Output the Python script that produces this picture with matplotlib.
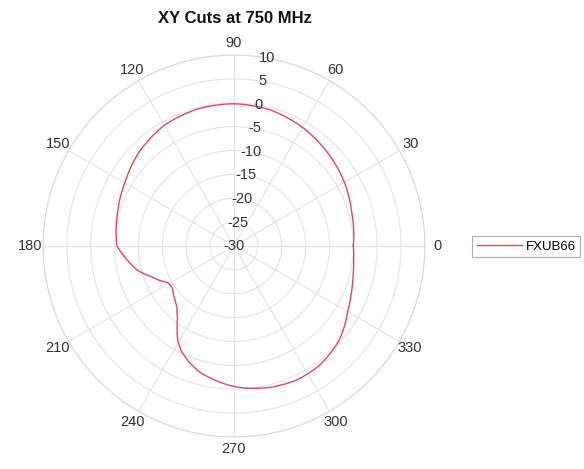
import numpy as np
import matplotlib
matplotlib.use('Agg')
import matplotlib.pyplot as plt

# pattern (angle in deg, level in dB)
angles_deg = [0, 15, 30, 45, 60, 75, 90, 105, 120, 135, 150, 165, 180,
              188, 194, 200, 205, 209, 214, 220, 227, 232, 236, 239, 243,
              249, 255, 262, 268, 275, 285, 295, 305, 312, 318, 324, 330,
              338, 345, 352, 360]
gain_db = [-5.0, -4.4, -3.3, -2.3, -1.3, -0.5, -0.2, -0.3, -0.8, -2.0, -3.6,
           -4.7, -5.5, -7.6, -9.1, -11.4, -12.9, -14.2, -14.4, -13.6, -12.5,
           -10.8, -8.7, -7.1, -5.5, -3.9, -2.6, -1.6, -0.8, -0.1, 0.6, 1.0,
           0.8, 0.2, -0.4, -1.4, -2.5, -3.5, -4.2, -4.7, -5.0]
r_ticks = [-30, -25, -20, -15, -10, -5, 0, 5, 10]
theta_ticks = [0, 30, 60, 90, 120, 150, 180, 210, 240, 270, 300, 330]
series_name = 'FXUB66'

plt.rcParams['font.family'] = ['Liberation Sans', 'DejaVu Sans']

fig = plt.figure(figsize=(5.84, 4.69), dpi=100)
ax = fig.add_axes([0.0736, 0.0682, 0.654, 0.8145], projection='polar')

line, = ax.plot(np.deg2rad(angles_deg), gain_db, color='#e6455e', lw=1.0)
# draw segments as arcs in polar space, not straight chords
line.get_path()._interpolation_steps = 30

ax.set_rlim(-30, 10)
ax.set_rticks(r_ticks)
ax.set_yticklabels([])
# radial labels sit right on the 80 deg spoke, like MATLAB does
for v in r_ticks:
    ax.text(np.deg2rad(80), v, str(v), ha='center', va='center',
            fontsize=10.5, color='#333333')
ax.set_thetagrids(theta_ticks, [str(t) for t in theta_ticks],
                  fontsize=10.5, color='#333333')
ax.tick_params(axis='x', pad=-1.5)
ax.grid(True, color='#e3e3e3', lw=0.8)
ax.spines['polar'].set_color('#d9d9d9')
ax.spines['polar'].set_linewidth(0.8)

fig.text(0.403, 0.961, 'XY Cuts at 750 MHz', ha='center', va='center',
         fontsize=12, fontweight='bold', color='#111111')

leg = fig.legend([line], [series_name], loc='center',
                 bbox_to_anchor=(0.901, 0.474), fontsize=9.5,
                 frameon=True, fancybox=False, handlelength=3.4,
                 borderpad=0.35, handletextpad=0.3)
leg.get_frame().set_edgecolor('#9a9a9a')
leg.get_frame().set_linewidth(0.8)

fig.savefig('out.png', dpi=100)
